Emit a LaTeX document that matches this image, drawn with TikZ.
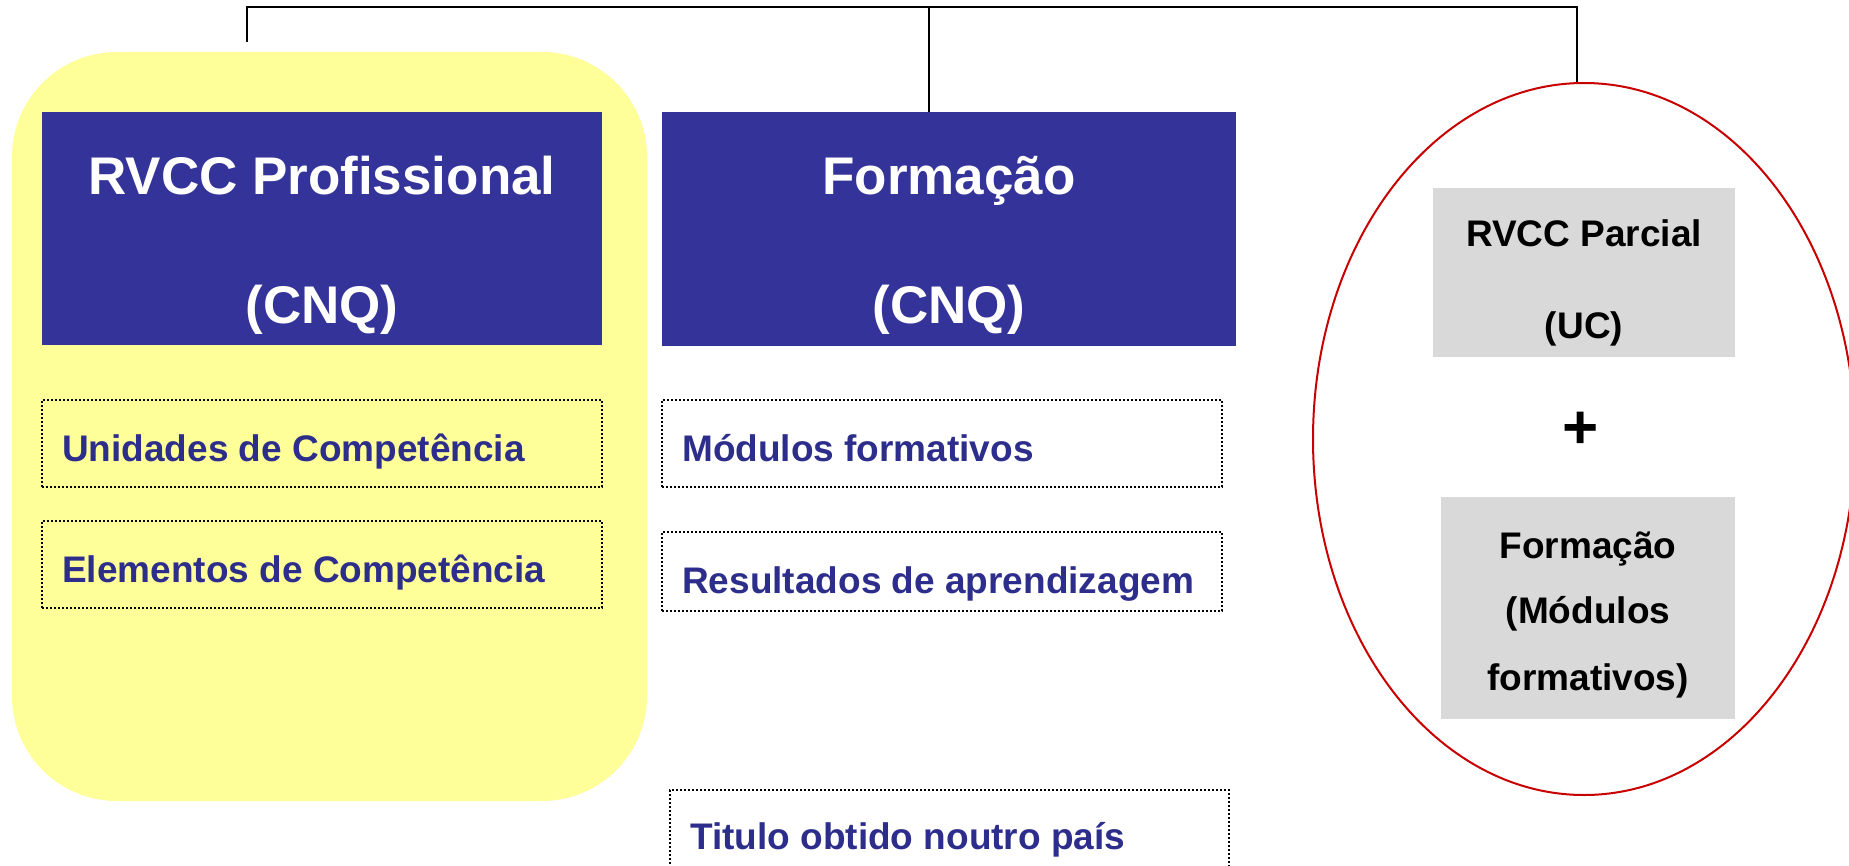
\documentclass[tikz,border=0pt]{standalone}
\usepackage{fontspec}
\setmainfont{Liberation Sans}
\usetikzlibrary{shapes.geometric}
\definecolor{boxblue}{RGB}{51,51,153}
\definecolor{txtblue}{RGB}{45,45,140}
\definecolor{paleyellow}{RGB}{255,255,153}
\definecolor{boxgray}{RGB}{217,217,217}
\definecolor{ellred}{RGB}{200,0,0}
\begin{document}
\begin{tikzpicture}[x=1pt,y=-1pt,
  bluebox/.style={fill=boxblue, inner sep=0pt},
  graybox/.style={fill=boxgray, inner sep=0pt},
  dotbox/.style={draw=black, line width=2pt, dash pattern=on 2pt off 2pt, inner sep=0pt},
  titletext/.style={text=white, font=\fontsize{53}{60}\selectfont\bfseries, inner sep=0pt, anchor=base},
  itemtext/.style={text=txtblue, font=\fontsize{37}{42}\selectfont\bfseries, inner sep=0pt, anchor=base west},
  graytext/.style={text=black, font=\fontsize{37}{42}\selectfont\bfseries, inner sep=0pt, anchor=base},
  conn/.style={draw=black, line width=2pt}
]
\useasboundingbox (0,0) rectangle (1849,866);
\fill[white] (0,0) rectangle (1849,866);

% yellow panel
\node[fill=paleyellow, rounded corners=105pt, minimum width=635pt, minimum height=749pt, inner sep=0pt] (yellow) at (329.5,426.5) {};

% blue title boxes
\node[bluebox, minimum width=560pt, minimum height=233pt] (blue1) at (322,228.5) {};
\node[titletext] (t1a) at (322,195) {RVCC Profissional};
\node[titletext] (t1b) at (322,324) {(CNQ)};

\node[bluebox, minimum width=574pt, minimum height=234pt] (blue2) at (949,229) {};
\node[titletext] (t2a) at (949,195) {Formação};
\node[titletext] (t2b) at (949,324) {(CNQ)};

% dotted boxes
\node[dotbox, minimum width=560pt, minimum height=87pt] (d1) at (322,443.5) {};
\node[itemtext] (l1) at (62,461) {Unidades de Competência};
\node[dotbox, minimum width=560pt, minimum height=87pt] (d2) at (322,564.5) {};
\node[itemtext] (l2) at (62,582) {Elementos de Competência};

\node[dotbox, minimum width=560pt, minimum height=87pt] (d3) at (942,443.5) {};
\node[itemtext] (l3) at (682,461) {Módulos formativos};
\node[dotbox, minimum width=560pt, minimum height=79pt] (d4) at (942,571.5) {};
\node[itemtext] (l4) at (682,593) {Resultados de aprendizagem};

\node[dotbox, minimum width=559pt, minimum height=150pt] (d5) at (949.5,865) {};
\node[itemtext] (l5) at (690,849) {Titulo obtido noutro país};

% ellipse group
\node[ellipse, draw=ellred, line width=2pt, minimum width=542pt, minimum height=712pt, inner sep=0pt] (ell) at (1584,439) {};
\node[graybox, minimum width=302pt, minimum height=169pt] (g1) at (1584,272.5) {};
\node[graytext] (g1a) at (1584,247) {RVCC Parcial};
\node[graytext] (g1b) at (1584,338) {(UC)};
\node[text=black, font=\fontsize{62}{62}\selectfont\bfseries, inner sep=0pt] (plus) at (1581,430) {+};
\node[graybox, minimum width=294pt, minimum height=222pt] (g2) at (1588,608) {};
\node[graytext] (g2a) at (1588,558) {Formação};
\node[graytext] (g2b) at (1588,623) {(Módulos};
\node[graytext] (g2c) at (1588,690) {formativos)};

% connectors
\coordinate (ldrop) at (247,42);
\coordinate (rtop) at (1577,7);
\coordinate (mtop) at (929,7);
\draw[conn] (ldrop) |- (rtop) -- (rtop |- ell.north);
\draw[conn] (mtop) -- (mtop |- blue2.north);
\end{tikzpicture}
\end{document}
